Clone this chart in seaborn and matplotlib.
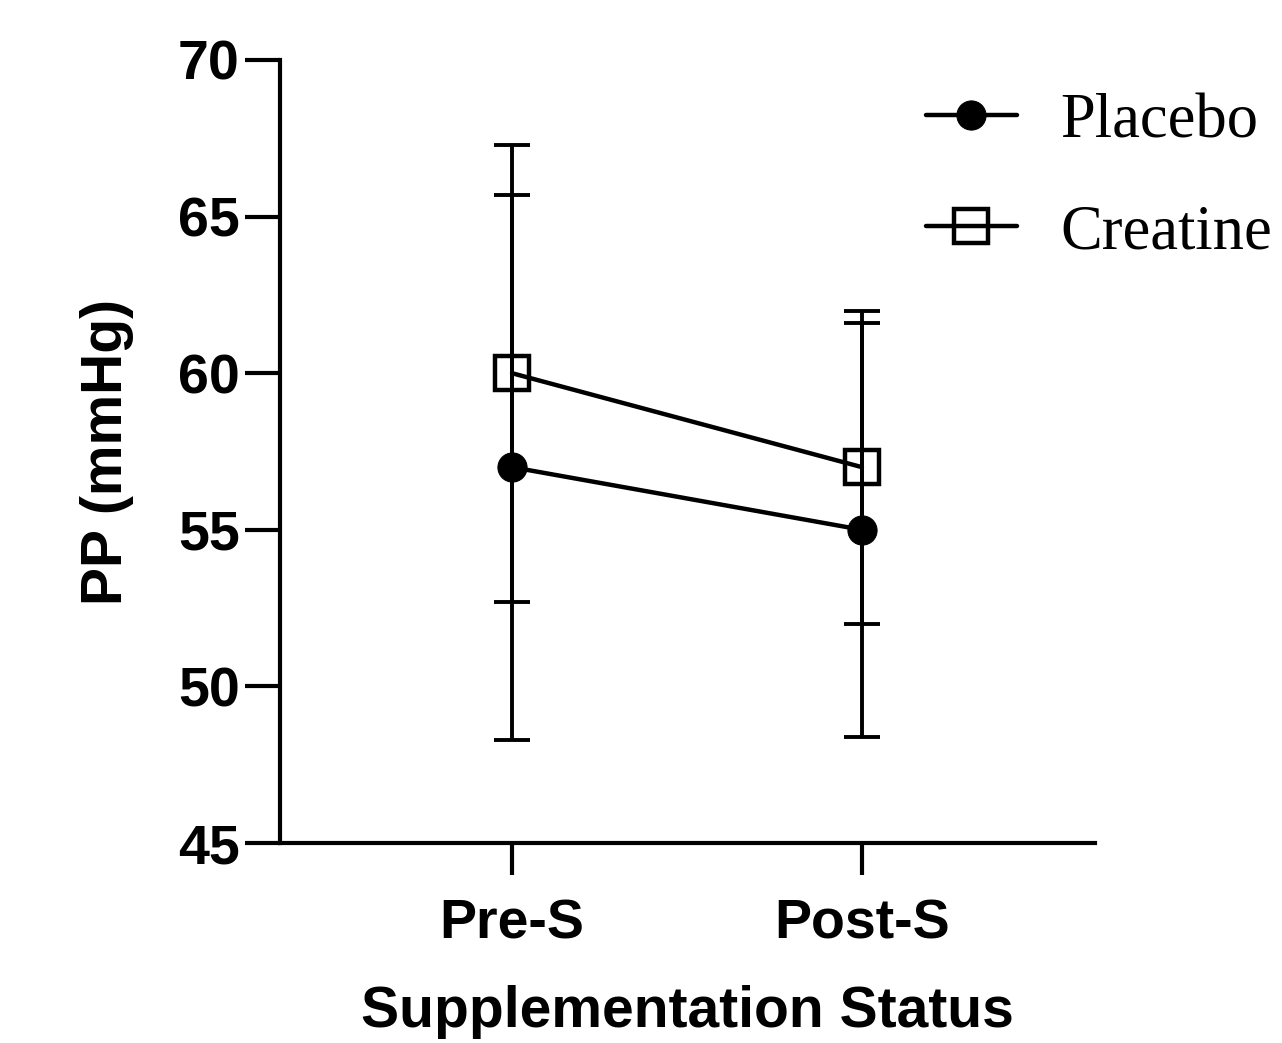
import matplotlib
matplotlib.use("Agg")
import matplotlib.pyplot as plt
import seaborn as sns
import numpy as np

categories = ["Pre-S", "Post-S"]
placebo_mean = [57.0, 55.0]
placebo_sd = [8.7, 6.6]
creatine_mean = [60.0, 57.0]
creatine_sd = [7.3, 5.0]
series_names = ["Placebo", "Creatine"]
yticks = [45, 50, 55, 60, 65, 70]

sns.set_theme(style="ticks")
plt.rcParams['font.family'] = ['Liberation Sans', 'DejaVu Sans']
plt.rcParams['text.color'] = 'black'

fig = plt.figure(figsize=(12.82, 10.43), dpi=100)
ax = fig.add_axes([280/1282, 1-843/1043, (1095-280)/1282, (843-60)/1043])

xpos = np.arange(len(categories))

ax.errorbar(xpos, placebo_mean, yerr=placebo_sd, fmt='none', ecolor='black',
            elinewidth=2.8, capsize=13, capthick=2.8, zorder=2)
ax.errorbar(xpos, creatine_mean, yerr=creatine_sd, fmt='none', ecolor='black',
            elinewidth=2.8, capsize=13, capthick=2.8, zorder=2)

sns.lineplot(x=xpos, y=placebo_mean, ax=ax, color='black', marker='o',
             markersize=21, markerfacecolor='black', markeredgecolor='black',
             linewidth=3.2, label=series_names[0], zorder=3)
sns.lineplot(x=xpos, y=creatine_mean, ax=ax, color='black', marker='s',
             markersize=25, markerfacecolor='none', markeredgecolor='black',
             markeredgewidth=3.2, linewidth=3.2, label=series_names[1], zorder=3)

ax.set_xlim(-0.663, 1.666)
ax.set_ylim(45, 70)
ax.set_yticks(yticks)
ax.set_xticks(xpos)
ax.set_xticklabels(categories)

for side in ['top', 'right']:
    ax.spines[side].set_visible(False)
for side in ['left', 'bottom']:
    ax.spines[side].set_linewidth(3)
    ax.spines[side].set_color('black')

ax.tick_params(axis='y', length=25, width=3, pad=4, labelsize=40, colors='black')
ax.tick_params(axis='x', length=23, width=3, pad=17, labelsize=40, colors='black')
for lab in ax.get_xticklabels() + ax.get_yticklabels():
    lab.set_fontweight('bold')

ax.set_xlabel("Supplementation Status", fontsize=41, fontweight='bold', labelpad=25, color='black')
ax.set_ylabel("PP (mmHg)", fontsize=41, fontweight='bold', labelpad=32, color='black')

leg = ax.legend(loc='upper left', bbox_to_anchor=(926/1282, 1-93/1043), bbox_transform=fig.transFigure,
                frameon=False, prop={'family': ['Liberation Serif'], 'size': 45},
                handlelength=1.45, handletextpad=0.7, labelspacing=0.85, borderpad=0, borderaxespad=0)
for t in leg.get_texts():
    t.set_color('black')

fig.savefig("out.png", dpi=100, facecolor='white')
